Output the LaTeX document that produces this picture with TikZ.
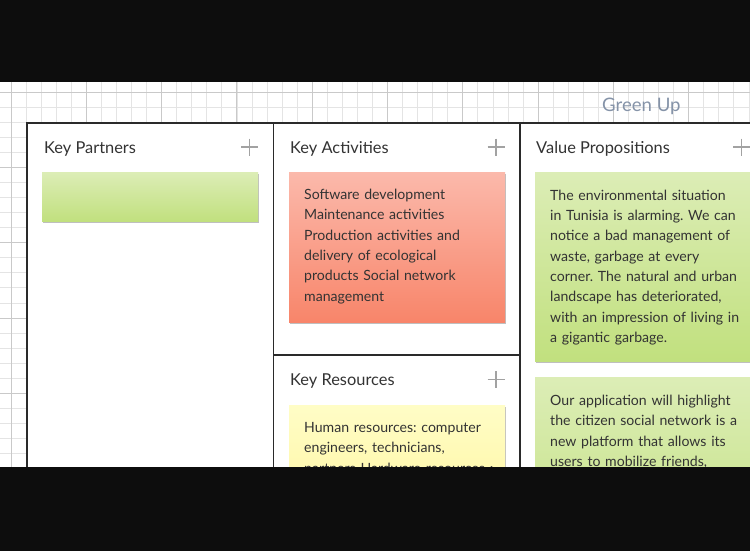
\documentclass[tikz,border=0pt]{standalone}
\usepackage{fontspec}
\setmainfont{Lato}
\usetikzlibrary{shadows}

\definecolor{barblack}{HTML}{0D0D0D}
\definecolor{gridminor}{HTML}{E4E4E4}
\definecolor{gridmajor}{HTML}{C9C9C9}
\definecolor{framecol}{HTML}{2A2A2A}
\definecolor{plusgray}{HTML}{A2A2A2}
\definecolor{inkcol}{HTML}{333333}
\definecolor{brandcol}{HTML}{8593A8}
\definecolor{greentop}{HTML}{DCEDB6}
\definecolor{greenbot}{HTML}{C1E07E}
\definecolor{greenmid}{HTML}{CFE79A}
\definecolor{redtop}{HTML}{FBB9AB}
\definecolor{redbot}{HTML}{F8856A}
\definecolor{yellowtop}{HTML}{FFFDC6}
\definecolor{yellowmid}{HTML}{FFF8AE}

\tikzset{
  minorline/.style={gridminor, line width=0.8pt},
  majorline/.style={gridmajor, line width=0.9pt},
  frameline/.style={framecol, line width=1.6pt},
  header/.style={anchor=base west, inner sep=0pt, text=inkcol,
    font=\fontsize{16.4}{20}\selectfont},
  note/.style={anchor=north west, inner sep=0pt, draw=none,
    drop shadow={shadow xshift=1.2pt, shadow yshift=-2pt,
      fill=black!45, opacity=0.55}},
  greennote/.style={note, top color=greentop, bottom color=greenbot},
  rednote/.style={note, top color=redtop, bottom color=redbot},
  notetext/.style={anchor=base west, inner sep=0pt, text=inkcol,
    text width=240pt, align=left,
    font=\fontsize{14.1}{20.35}\selectfont\frenchspacing},
  plusmark/.style={plusgray, line width=1.8pt},
}

\newcommand{\plusicon}[2]{%
  \draw[plusmark] (#1-8.5,#2) -- (#1+8.5,#2);
  \draw[plusmark] (#1,#2-8.5) -- (#1,#2+8.5);}

\begin{document}
\begin{tikzpicture}[x=1pt, y=-1pt]
\useasboundingbox (0,0) rectangle (750,550);
\clip (0,0) rectangle (750,550);

% paper with grid
\fill[white] (0,0) rectangle (750,550);
\foreach \i in {-1,...,50} {
  \pgfmathsetmacro{\gx}{11+15.06*\i}
  \draw[minorline] (\gx,80) -- (\gx,470);
}
\foreach \i in {-1,...,26} {
  \pgfmathsetmacro{\gy}{92.1+15.06*\i}
  \draw[minorline] (0,\gy) -- (750,\gy);
}
\foreach \i in {-1,...,10} {
  \pgfmathsetmacro{\gx}{11+75.3*\i}
  \draw[majorline] (\gx,80) -- (\gx,470);
}
\foreach \i in {-1,...,5} {
  \pgfmathsetmacro{\gy}{92.1+75.3*\i}
  \draw[majorline] (0,\gy) -- (750,\gy);
}

% title
\node[anchor=base west, inner sep=0pt, text=brandcol,
  font=\fontsize{18.6}{20}\selectfont] (brand) at (602,111) {Green Up};

% canvas frame
\fill[white] (27,123) rectangle (800,480);
\draw[frameline] (27,480) -- (27,123) -- (800,123);
\draw[frameline] (273.5,123) -- (273.5,480);
\draw[frameline] (520,123) -- (520,480);
\draw[frameline] (273.5,355) -- (520,355);

% section headers
\node[header] (kp) at (44,153) {Key Partners};
\node[header] (ka) at (290,153) {Key Activities};
\node[header] (vp) at (536,153) {Value Propositions};
\node[header] (kr) at (290,385.5) {Key Resources};
\plusicon{249.5}{147}
\plusicon{496}{147}
\plusicon{741.5}{147}
\plusicon{496}{379.5}

% sticky notes (the lower ones run on below the visible area)
\node[greennote, minimum width=216pt, minimum height=49pt] (kpnote) at (42,172) {};
\node[rednote, minimum width=216pt, minimum height=150pt] (kanote) at (289,172) {};
\node[greennote, minimum width=216pt, minimum height=189pt] (vpnote1) at (535,172) {};
\node[note, top color=greentop, bottom color=greenmid,
  minimum width=216pt, minimum height=100pt] (vpnote2) at (535,377) {};
\node[note, top color=yellowtop, bottom color=yellowmid,
  minimum width=216pt, minimum height=75pt] (krnote) at (289,405) {};

% note texts
\node[notetext] (katext) at (304,199.5) {Software development\\
Maintenance activities\\
Production activities and\\
delivery of ecological\\
products Social network\\
management};
\node[notetext] (vptext1) at (550,200) {The environmental situation\\
in Tunisia is alarming. We can\\
notice a bad management of\\
waste, garbage at every\\
corner. The natural and urban\\
landscape has deteriorated,\\
with an impression of living in\\
a gigantic garbage.};
\node[notetext] (vptext2) at (550,405.5) {Our application will highlight\\
the citizen social network is a\\
new platform that allows its\\
users to mobilize friends,};
\node[notetext] (krtext) at (304,432.5) {Human resources: computer\\
engineers, technicians,\\
partners Hardware resources :};

% screen bars
\fill[barblack] (-10,-10) rectangle (760,82);
\fill[barblack] (-10,467) rectangle (760,560);
\end{tikzpicture}
\end{document}
